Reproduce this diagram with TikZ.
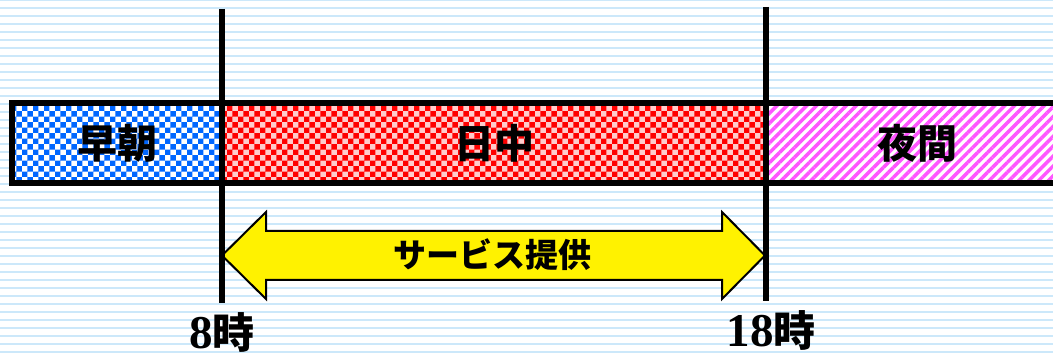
\documentclass[tikz,border=0pt]{standalone}
\usepackage{fontspec}
\setmainfont{Liberation Serif}
\newfontfamily\cjk{Noto Sans CJK JP}
\usetikzlibrary{patterns,patterns.meta}
\definecolor{ruleblue}{RGB}{204,232,250}
\definecolor{mornblue}{RGB}{0,102,255}
\definecolor{nightpink}{RGB}{255,85,255}
\tikzset{slot/.style={draw,line width=6pt,inner sep=0pt,minimum height=80pt,preaction={fill=white},font=\cjk\bfseries\fontsize{40}{44}\selectfont},
         ruled/.style={ruleblue,line width=1.7pt},
         tick/.style={line width=5.5pt},
         band/.style={draw,fill=yellow,line width=2pt,line join=miter},
         hourlab/.style={inner sep=0pt,font=\bfseries\fontsize{47}{50}\selectfont}}

\begin{document}
\begin{tikzpicture}[x=1pt,y=-1pt]
    \useasboundingbox (0,0) rectangle (1053,358);
    \foreach \k in {0,...,45} \draw[ruled] (0,8*\k) -- (1053,8*\k);
    % time slots
    \node[slot,minimum width=210pt,pattern=checkerboard,pattern color=mornblue] (morning) at (117,143) {早朝};
    \node[slot,minimum width=544pt,preaction={fill=red!20},pattern=checkerboard,pattern color=red] (day) at (494,143) {日中};
    \node[slot,minimum width=302pt,pattern={Lines[angle=45,distance=7pt,line width=3.5pt]},pattern color=nightpink] (night) at (917,143) {夜間};
    % service period
    \draw[band] (222,255.5) -- (266,212) -- (266,231) -- (722,231) -- (722,212) -- (765,255.5)
                -- (722,299) -- (722,280) -- (266,280) -- (266,299) -- cycle;
    \node[font=\cjk\bfseries\fontsize{33}{36}\selectfont,inner sep=0pt] (service) at (492,255) {サービス提供};
    % hour marks
    \coordinate (t8top) at (222,9);  \coordinate (t8bot) at (222,303);
    \coordinate (t18top) at (766,7); \coordinate (t18bot) at (766,301);
    \foreach \t in {t8,t18} \draw[tick] (\t top) -- (\t bot);
    \node[hourlab] (t8) at (222,332) {8{\cjk\fontsize{42}{46}\selectfont 時}};
    \node[hourlab] (t18) at (771,330) {18{\cjk\fontsize{42}{46}\selectfont 時}};
\end{tikzpicture}
\end{document}
